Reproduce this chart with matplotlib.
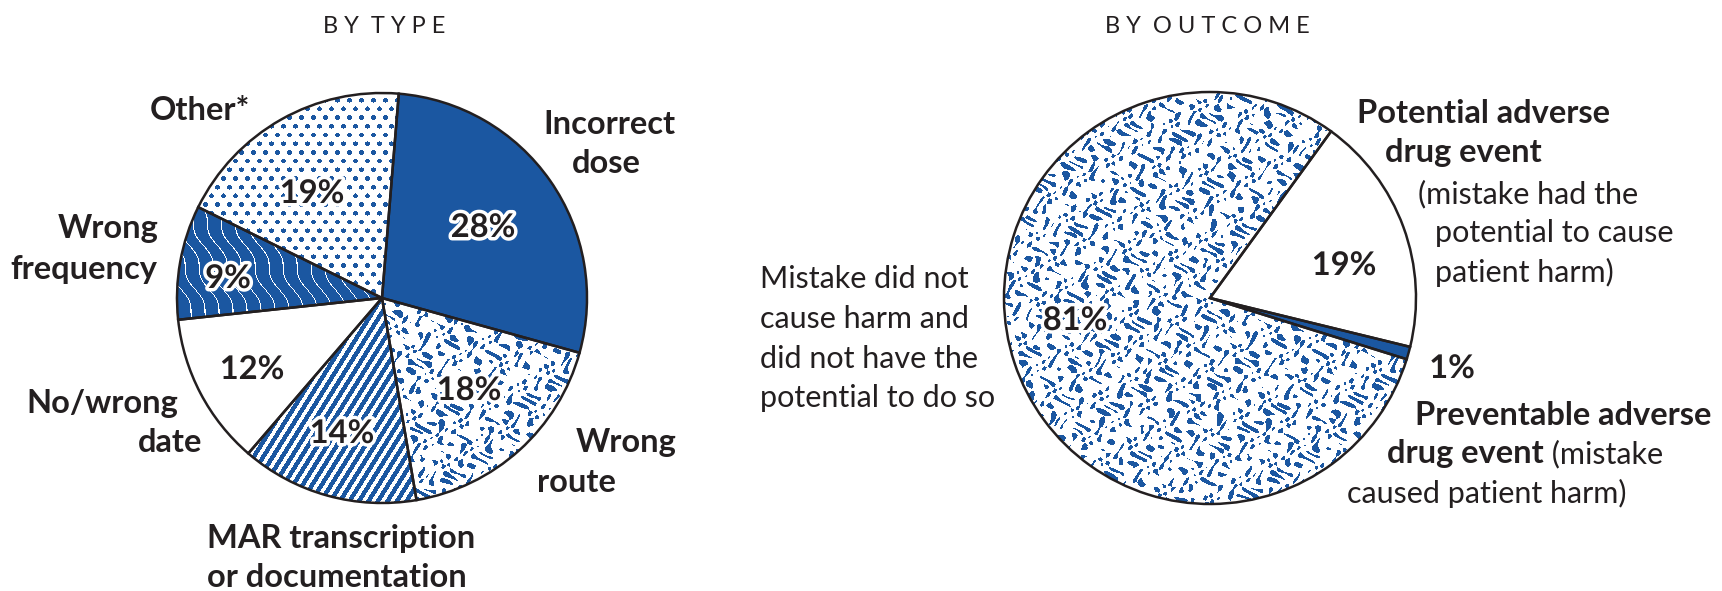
import numpy as np
import matplotlib
matplotlib.use("Agg")
import matplotlib.pyplot as plt
from matplotlib.patches import Wedge
import matplotlib.patheffects as pe

# --- data -------------------------------------------------------------
type_labels = ["Incorrect dose", "Wrong route", "MAR transcription or documentation",
               "No/wrong date", "Wrong frequency", "Other*"]
type_values = [28, 18, 14, 12, 9, 19]
type_patterns = ["solid", "squiggle", "stripes", "plain", "waves", "dots"]

outcome_labels = ["Potential adverse drug event", "Preventable adverse drug event",
                  "Mistake did not cause harm"]
outcome_values = [19, 1, 81]
outcome_patterns = ["plain", "solid", "squiggle"]

W, H = 1722, 591
BLUE = "#1b57a1"
INK = "#231f20"
plt.rcParams['font.family'] = ['Lato', 'DejaVu Sans']

fig = plt.figure(figsize=(W / 100, H / 100), dpi=100)
ax = fig.add_axes([0, 0, 1, 1])


def Y(y):
    # reference pixel rows run downward
    return H - y


# textures, one value per output pixel
def texture(kind, n):
    yy, xx = np.mgrid[0:n, 0:n].astype(float)
    if kind == "dots":
        row = np.round(yy / 8.7)
        off = (row % 2) * 6.0
        dx = (xx - off) - 12.0 * np.round((xx - off) / 12.0)
        dy = yy - 8.7 * row
        return dx ** 2 + dy ** 2 < 2.4 ** 2
    if kind == "stripes":
        return ((xx + 0.625 * yy) / 9.5) % 1.0 < 0.55
    if kind == "waves":
        u = (xx - 0.45 * yy + 3.0 * np.sin(yy / 7.0)) / 14.0
        return (u % 1.0) < 0.08
    if kind == "squiggle":
        a = np.sin(0.45 * xx + 2.4 * np.sin(0.19 * yy + 0.11 * xx))
        b = np.sin(0.37 * yy + 2.1 * np.sin(0.15 * xx - 0.1 * yy))
        c = np.sin(0.27 * (xx - yy) + 1.6 * np.sin(0.23 * yy))
        return a * b + 0.4 * c > 0.42
    return np.zeros((n, n), bool)


def draw_pie(values, patterns, cx, cy, r, start):
    wedges, _ = ax.pie(values, startangle=start, counterclock=False,
                       center=(cx, Y(cy)), radius=r,
                       colors=[BLUE if p in ("solid", "waves") else "white" for p in patterns],
                       wedgeprops=dict(edgecolor="none", linewidth=0))
    n = int(2 * r) + 4
    for w, p in zip(wedges, patterns):
        if p in ("solid", "plain"):
            continue
        mask = texture(p, n)
        rgba = np.zeros((n, n, 4))
        col = matplotlib.colors.to_rgb("white" if p == "waves" else BLUE)
        rgba[..., :3] = col
        rgba[..., 3] = mask
        im = ax.imshow(rgba, extent=(cx - n / 2, cx + n / 2, Y(cy) - n / 2, Y(cy) + n / 2),
                       origin="upper", interpolation="nearest", zorder=1.5)
        im.set_clip_path(w)
    for w in wedges:
        ax.add_patch(Wedge(w.center, w.r, w.theta1, w.theta2, fill=False,
                           edgecolor=INK, linewidth=1.8, zorder=3))
    return wedges


draw_pie(type_values, type_patterns, 382, 298, 205, 85.3)
draw_pie(outcome_values, outcome_patterns, 1210, 298, 206, 54)

ax.set_xlim(0, W)
ax.set_ylim(0, H)
ax.set_aspect("auto")
ax.axis("off")

# --- titles -----------------------------------------------------------
tkw = dict(fontsize=17, fontweight="normal", color=INK, ha="center", va="baseline")
ax.text(384, Y(33), "B Y  T Y P E", **tkw)
ax.text(1207, Y(33), "B Y  O U T C O M E", **tkw)

# --- labels (left x, baseline y) ----------------------------------------
bold = dict(fontsize=23.5, fontweight="bold", color=INK, va="baseline", zorder=5)
reg = dict(fontsize=22, color=INK, va="baseline", zorder=5)

left_lines = [("Other*", 150, 120), ("Incorrect", 543, 134), ("dose", 572, 173),
              ("Wrong", 58, 238), ("frequency", 10, 279), ("No/wrong", 26, 413),
              ("date", 138, 452), ("Wrong", 576, 452), ("route", 537, 492),
              ("MAR transcription", 207, 548), ("or documentation", 207, 587)]
for s, x, y in left_lines:
    ax.text(x, Y(y), s, ha="left", **bold)

halo = [pe.withStroke(linewidth=5, foreground="white")]
type_pct_pos = [(483, 237), (469, 400), (342, 443), (252, 379), (228, 288), (312, 203)]
for v, (x, y) in zip(type_values, type_pct_pos):
    ax.text(x, Y(y), f"{v}%", ha="center", path_effects=halo, **bold)

outcome_pct_pos = [(1344, 275), (1452, 378), (1075, 330)]
for v, (x, y) in zip(outcome_values, outcome_pct_pos):
    ax.text(x, Y(y), f"{v}%", ha="center", path_effects=halo, **bold)

ax.text(1357, Y(123), "Potential adverse", ha="left", **bold)
ax.text(1385, Y(162), "drug event", ha="left", **bold)
for s, x, y in [("(mistake had the", 1418, 203), ("potential to cause", 1435, 242),
                ("patient harm)", 1435, 282), ("caused patient harm)", 1347, 503)]:
    ax.text(x, Y(y), s, ha="left", **reg)
ax.text(1415, Y(425), "Preventable adverse", ha="left", **bold)
t = ax.text(1387, Y(463), "drug event", ha="left", **bold)
ax.annotate(" (mistake", xycoords=t, xy=(1, 0), va="bottom", ha="left",
            fontsize=22, color=INK, zorder=5)

for s, y in zip(["Mistake did not", "cause harm and", "did not have the",
                 "potential to do so"], [288, 328, 368, 407]):
    ax.text(760, Y(y), s, ha="left", **reg)

fig.savefig("out.png", dpi=100)
